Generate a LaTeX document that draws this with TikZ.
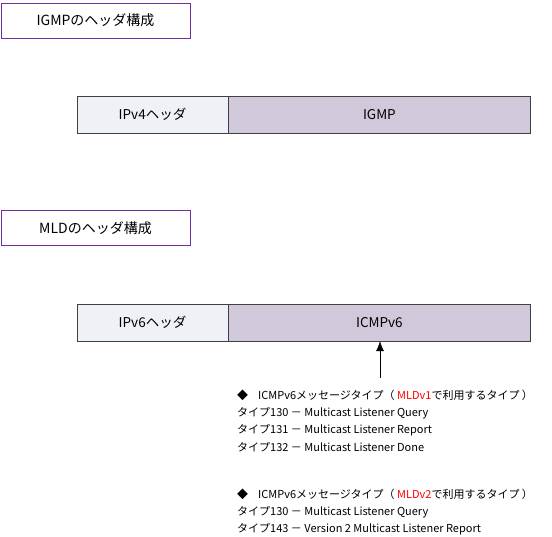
\documentclass[tikz,border=0pt]{standalone}
\usepackage{fontspec}
\newfontfamily\cjk{Noto Sans CJK JP}
\usepackage{tikz}
\usetikzlibrary{positioning,arrows.meta}
\definecolor{titleline}{RGB}{112,48,160}
\definecolor{hdrfill}{RGB}{238,241,245}
\definecolor{bodyfill}{RGB}{209,200,220}
\definecolor{mldred}{RGB}{255,0,0}
\tikzset{
  titlebox/.style={draw=titleline, thick, minimum width=189pt, minimum height=35pt, font=\cjk\fontsize{14}{16}\selectfont, inner sep=0pt},
  cell/.style={draw=black!75, minimum height=37pt, font=\cjk\fontsize{13.5}{16}\selectfont, inner sep=0pt},
  line/.style={anchor=west, font=\cjk\fontsize{11}{13}\selectfont, inner sep=0pt}
}
\begin{document}
\begin{tikzpicture}[x=1pt, y=-1pt]
    \useasboundingbox (0,0) rectangle (552,537);

    % IGMP
    \node[titlebox] (igmptitle) at (95.5,20.5) {IGMPのヘッダ構成};
    \node[cell, fill=hdrfill, minimum width=151pt] (ipv4) at (152.5,114.5) {IPv4ヘッダ};
    \node[cell, fill=bodyfill, minimum width=302pt, anchor=west] (igmp) at (ipv4.east) {IGMP};

    % MLD
    \node[titlebox] (mldtitle) at (95.5,228) {MLDのヘッダ構成};
    \node[cell, fill=hdrfill, minimum width=151pt] (ipv6) at (152.5,322.5) {IPv6ヘッダ};
    \node[cell, fill=bodyfill, minimum width=302pt, anchor=west] (icmp) at (ipv6.east) {ICMPv6};

    % Arrow to ICMPv6
    \coordinate (tail) at (380,378);
    \draw[-{Latex[length=10pt,width=8pt]}] (tail) -- (tail |- icmp.south);

    % MLDv1 types
    \node[line] (v1head) at (237,395) {◆\hspace{10pt}ICMPv6メッセージタイプ（ {\color{mldred}MLDv1}で利用するタイプ ）};
    \node[line] (v1a) at (237,413) {タイプ130 － Multicast Listener Query};
    \node[line] (v1b) at (237,430) {タイプ131 － Multicast Listener Report};
    \node[line] (v1c) at (237,447) {タイプ132 － Multicast Listener Done};

    % MLDv2 types
    \node[line] (v2head) at (237,494) {◆\hspace{10pt}ICMPv6メッセージタイプ（ {\color{mldred}MLDv2}で利用するタイプ ）};
    \node[line] (v2a) at (237,512) {タイプ130 － Multicast Listener Query};
    \node[line] (v2b) at (237,529) {タイプ143 － Version 2 Multicast Listener Report};
\end{tikzpicture}
\end{document}
